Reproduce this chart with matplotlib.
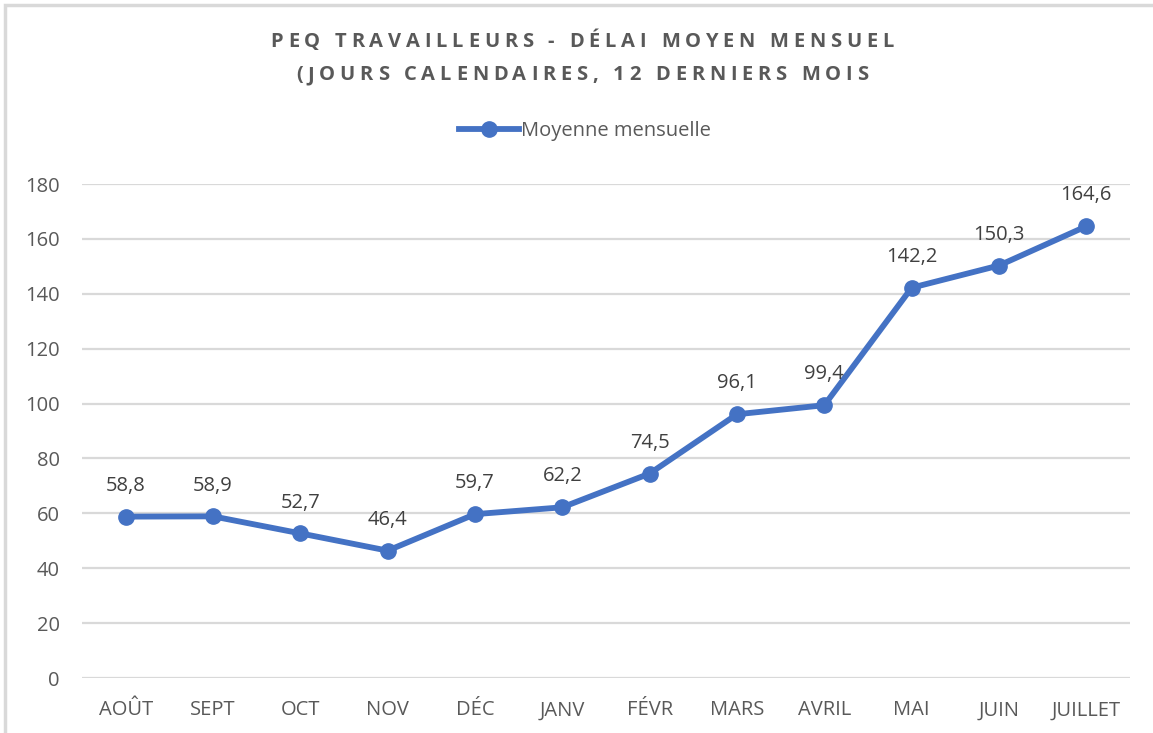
import matplotlib
matplotlib.use("Agg")
import matplotlib.pyplot as plt
from matplotlib.lines import Line2D
from matplotlib.patches import Rectangle
from matplotlib.font_manager import FontProperties

months = ["AOÛT", "SEPT", "OCT", "NOV", "DÉC", "JANV", "FÉVR", "MARS", "AVRIL", "MAI", "JUIN", "JUILLET"]
values = [58.8, 58.9, 52.7, 46.4, 59.7, 62.2, 74.5, 96.1, 99.4, 142.2, 150.3, 164.6]
yticks = [0, 20, 40, 60, 80, 100, 120, 140, 160, 180]
title_lines = ["PEQ TRAVAILLEURS - DÉLAI MOYEN MENSUEL", "(JOURS CALENDAIRES, 12 DERNIERS MOIS"]
series_name = "Moyenne mensuelle"

W, H = 1153, 733
FS = 14.5
TXT = "#595959"
fig = plt.figure(figsize=(W / 100, H / 100), dpi=100)
fig.patch.set_facecolor("white")

# chart border (left/top visible)
fig.patches.append(Rectangle((5 / W, -0.05), 1.2, 1 - 5 / H + 0.05, transform=fig.transFigure,
                             fill=False, edgecolor="#D9D9D9", linewidth=2.5))

ax = fig.add_axes([82 / W, 1 - 678 / H, (1130 - 82) / W, (678 - 184) / H])
x = list(range(len(months)))
color = "#4472C4"
ax.plot(x, values, color=color, linewidth=4.2, marker="o", markersize=11, solid_capstyle="round", zorder=3)
for xi, v in zip(x, values):
    ax.annotate(f"{v:.1f}".replace(".", ","), (xi, v), xytext=(0, 15), textcoords="offset points",
                ha="center", va="bottom", fontsize=FS, color="#404040", family="Open Sans")

ax.set_xlim(-0.5, len(months) - 0.5)
ax.set_ylim(0, 180)
ax.set_yticks(yticks)
ax.set_yticklabels([str(t) for t in yticks])
ax.set_xticks(x)
ax.set_xticklabels(months)
ax.yaxis.grid(True, color="#D9D9D9", linewidth=1.6)
ax.set_axisbelow(True)
for s in ax.spines.values():
    s.set_visible(False)
ax.tick_params(axis="both", length=0, labelsize=FS, colors=TXT)
ax.tick_params(axis="y", pad=16)
ax.tick_params(axis="x", pad=16)
for lab in ax.get_xticklabels() + ax.get_yticklabels():
    lab.set_family("Open Sans")

# letter-spaced bold title
renderer = fig.canvas.get_renderer()
tprop = FontProperties(family="Open Sans", weight="bold", size=14.5)

def char_widths(s):
    ws = []
    for ch in s:
        w, h, d = renderer.get_text_width_height_descent(ch, tprop, ismath=False)
        if ch == " ":
            w2, _, _ = renderer.get_text_width_height_descent("a a", tprop, ismath=False)
            w1, _, _ = renderer.get_text_width_height_descent("aa", tprop, ismath=False)
            w = w2 - w1
        ws.append(w)
    return ws

target_w = 623.0
w0 = char_widths(title_lines[0])
spacing = (target_w - sum(w0)) / (len(title_lines[0]) - 1)
cx = 582.0
for line, yc in zip(title_lines, [42, 75]):
    ws = char_widths(line)
    total = sum(ws) + spacing * (len(line) - 1)
    xpos = cx - total / 2
    for ch, w in zip(line, ws):
        fig.text(xpos / W, 1 - yc / H, ch, ha="left", va="center", fontproperties=tprop, color=TXT)
        xpos += w + spacing

handle = Line2D([], [], color=color, linewidth=4.2, marker="o", markersize=11)
fig.legend([handle], [series_name], loc="center", bbox_to_anchor=(585 / W, 1 - 131 / H), frameon=False,
           prop={"family": "Open Sans", "size": FS}, labelcolor=TXT,
           handlelength=3.0, handletextpad=0.1)

fig.savefig("out.png", dpi=100)
